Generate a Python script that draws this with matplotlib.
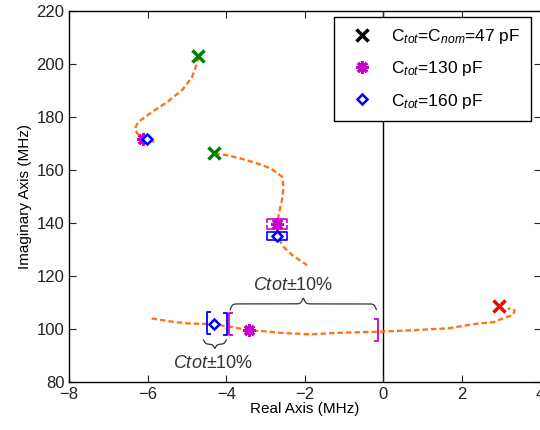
import numpy as np
import matplotlib
matplotlib.use('Agg')
import matplotlib.pyplot as plt
from matplotlib.path import Path
from matplotlib.lines import Line2D

plt.rcParams['font.family'] = ['Liberation Sans', 'DejaVu Sans']
plt.rcParams['mathtext.fontset'] = 'custom'
plt.rcParams['mathtext.rm'] = 'Liberation Sans'
plt.rcParams['mathtext.it'] = 'Liberation Sans:italic'

# root loci (real, imaginary parts in MHz)
locus1_re = [-4.71, -4.74, -4.87, -5.12, -5.50, -5.89, -6.24, -6.32, -6.27, -6.12, -5.76]
locus1_im = [202.8, 200.3, 195.0, 190.1, 185.6, 181.8, 178.0, 175.7, 173.8, 171.9, 170.1]

locus2_re = [-4.30, -4.02, -3.64, -3.21, -2.87, -2.58, -2.54, -2.58, -2.66, -2.70, -2.70, -2.54, -2.32, -1.94]
locus2_im = [166.2, 165.6, 164.3, 162.4, 160.5, 157.4, 153.6, 148.6, 143.6, 139.5, 134.7, 130.9, 127.8, 124.0]

locus3_re = [-5.90, -5.34, -4.92, -4.34, -3.90, -3.56, -3.41, -3.13, -2.62, -1.85, -1.17, -0.15,
             0.78, 1.64, 2.32, 2.83, 3.08, 3.30, 3.34, 3.17]
locus3_im = [103.9, 102.6, 102.0, 101.8, 100.8, 99.8, 99.4, 99.2, 98.5, 97.9, 98.5, 98.9,
             99.5, 100.2, 101.8, 102.6, 104.2, 105.2, 107.0, 107.7]

# poles at C_tot = C_nom = 47 pF
nom_re = [-4.71, -4.30, 2.93]
nom_im = [202.8, 166.2, 108.6]
nom_colors = ['#008000', '#008000', '#ff0000']

# poles at C_tot = 130 pF and 160 pF
c130_re = [-6.11, -2.70, -3.41]
c130_im = [171.8, 139.5, 99.4]
c160_re = [-6.01, -2.70, -4.32]
c160_im = [171.8, 135.0, 102.0]

# +-10% caps
capv130_re = [-2.70, -2.70]
capv130_im = [141.6, 137.5]
capv160_re = [-2.70, -2.70]
capv160_im = [136.6, 133.5]
caph130_re = [-3.94, -0.15]
caph130_im = [101.8, 99.4]
caph160_re = [-4.49, -3.98]
caph160_im = [102.3, 101.8]

orange = '#ff7414'
magenta = '#cc00cc'
blue = '#0000ff'

fig = plt.figure(figsize=(5.4, 4.3), dpi=100)
ax = fig.add_axes([0.128, 0.112, 0.873, 0.863])

for re, im in [(locus1_re, locus1_im), (locus2_re, locus2_im), (locus3_re, locus3_im)]:
    ax.plot(re, im, color=orange, lw=1.7, dashes=(2.3, 1.3), zorder=2)

ax.axvline(0, color='black', lw=1.0, zorder=1)

# bracket markers
top_cap = Path([(-1, -0.35), (-1, 0), (1, 0), (1, -0.35)])
bot_cap = Path([(-1, 0.35), (-1, 0), (1, 0), (1, 0.35)])
left_cap = Path([(0.35, -1), (0, -1), (0, 1), (0.35, 1)])
right_cap = Path([(-0.35, -1), (0, -1), (0, 1), (-0.35, 1)])

for re, im, col in [(capv130_re, capv130_im, magenta), (capv160_re, capv160_im, blue)]:
    ax.plot(re[0], im[0], ls='none', marker=top_cap, ms=15, mfc='none', mec=col, mew=1.2, zorder=3)
    ax.plot(re[1], im[1], ls='none', marker=bot_cap, ms=15, mfc='none', mec=col, mew=1.2, zorder=3)
for re, im, col in [(caph130_re, caph130_im, magenta), (caph160_re, caph160_im, blue)]:
    ax.plot(re[0], im[0], ls='none', marker=left_cap, ms=16, mfc='none', mec=col, mew=1.3, zorder=3)
    ax.plot(re[1], im[1], ls='none', marker=right_cap, ms=16, mfc='none', mec=col, mew=1.3, zorder=3)

for re, im, col in zip(nom_re, nom_im, nom_colors):
    ax.plot(re, im, ls='none', marker='x', ms=8, mew=2.5, color=col, zorder=4)
ax.plot(c130_re, c130_im, ls='none', marker=(8, 2, 0), ms=9, mew=2.2, color=magenta, zorder=4)
ax.plot(c160_re, c160_im, ls='none', marker='D', ms=5, mew=1.8, mfc='white', mec=blue, zorder=5)


def brace(x0, x1, y, h, width_px):
    # curly brace between x0 and x1, tip pointing by h (data units)
    b = width_px * 0.9
    s = np.linspace(0, 0.5, 120)
    half = 1 / (1 + np.exp(-b * s)) + 1 / (1 + np.exp(-b * (s - 0.5))) - 0.5
    half = half / half[-1]
    prof = np.concatenate([half, half[::-1]])
    xs = np.linspace(x0, x1, prof.size)
    ax.plot(xs, y + h * prof, color='#333333', lw=0.9, zorder=3)


brace(-4.58, -4.00, 95.8, -3.2, 23)
brace(-3.90, -0.18, 107.3, 4.2, 145)

ax.text(-4.34, 87.0, r'$\mathit{Ctot}$±10%', fontsize=13, color='#333333', ha='center', va='center')
ax.text(-2.29, 116.3, r'$\mathit{Ctot}$±10%', fontsize=13, color='#333333', ha='center', va='center')

ax.set_xlim(-8, 4)
ax.set_ylim(80, 220)
ax.set_xticks(np.arange(-8, 5, 2))
ax.set_yticks(np.arange(80, 221, 20))
ax.tick_params(direction='in', top=True, right=True, length=5, labelsize=12, colors='#222222')
for sp in ax.spines.values():
    sp.set_linewidth(1.0)
ax.set_xlabel('Real Axis (MHz)', fontsize=11, labelpad=0)
ax.set_ylabel('Imaginary Axis (MHz)', fontsize=11, labelpad=3)

handles = [
    Line2D([], [], ls='none', marker='x', ms=8, mew=2.5, color='black'),
    Line2D([], [], ls='none', marker=(8, 2, 0), ms=9, mew=2.2, color=magenta),
    Line2D([], [], ls='none', marker='D', ms=5, mew=1.8, mfc='white', mec=blue),
]
labels = [r'C$_{tot}$=C$_{nom}$=47 pF', r'C$_{tot}$=130 pF', r'C$_{tot}$=160 pF']
leg = ax.legend(handles, labels, loc='upper right', bbox_to_anchor=(0.98, 0.983), fontsize=12.5,
                frameon=True, fancybox=False, edgecolor='black', framealpha=1,
                handlelength=2.0, handletextpad=0.7, labelspacing=0.75, borderpad=0.6,
                borderaxespad=0)
leg.get_frame().set_linewidth(1.0)

fig.savefig('out.png', dpi=100)
